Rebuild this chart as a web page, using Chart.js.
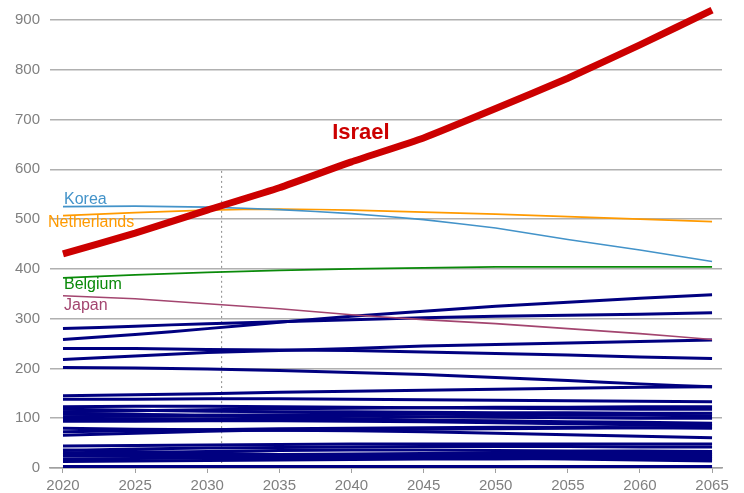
<!DOCTYPE html>
<html>
<head>
<meta charset="utf-8">
<script src="https://cdn.jsdelivr.net/npm/chart.js@4"></script>
<style>
  html, body { margin: 0; padding: 0; background: #fff; }
  #wrap { width: 744px; height: 493px; }
</style>
</head>
<body>
<div id="wrap"><canvas id="chart" width="744" height="493"></canvas></div>
<script>
// years on the x axis
const years = [2020, 2025, 2030, 2035, 2040, 2045, 2050, 2055, 2060, 2065];
const xTicks = [2020, 2025, 2030, 2035, 2040, 2045, 2050, 2055, 2060, 2065];
const yTicks = [0, 100, 200, 300, 400, 500, 600, 700, 800, 900];

// highlighted countries
const israel = [430, 472, 518, 563, 615, 663, 722, 783, 850, 920];
const korea = [525, 526, 524, 519, 511, 499, 482, 459, 438, 415];
const netherlands = [507, 513, 518, 520, 518, 514, 510, 505, 500, 495];
const belgium = [382, 388, 393, 397, 400, 402, 404, 404, 404, 404];
const japan = [346, 340, 330, 320, 308, 298, 290, 280, 270, 258];

// the other countries (navy)
const others = [
  [280, 285, 290, 294, 298, 302, 305, 307, 309, 312],
  [258, 268, 280, 293, 305, 315, 325, 333, 341, 348],
  [240, 240, 238, 237, 236, 233, 230, 227, 223, 220],
  [218, 225, 232, 236, 240, 245, 248, 251, 254, 257],
  [202, 201, 199, 196, 192, 188, 182, 176, 169, 163],
  [145, 147, 149, 152, 154, 156, 158, 160, 162, 163],
  [138, 138, 139, 139, 138, 137, 136, 135, 134, 133],
  [123, 124, 124, 123, 122, 121, 120, 119, 118, 118],
  [118, 116, 114, 113, 113, 112, 111, 111, 110, 110],
  [113, 115, 117, 119, 120, 121, 122, 122, 123, 123],
  [108, 107, 106, 105, 104, 103, 102, 101, 100, 100],
  [103, 104, 106, 107, 108, 108, 107, 106, 106, 105],
  [98, 99, 99, 98, 97, 96, 95, 93, 92, 90],
  [94, 94, 95, 95, 94, 93, 91, 89, 87, 85],
  [110, 108, 105, 102, 99, 96, 93, 90, 88, 86],
  [80, 78, 77, 76, 75, 73, 70, 67, 64, 61],
  [73, 75, 77, 79, 80, 81, 82, 82, 81, 80],
  [66, 70, 74, 76, 77, 78, 79, 80, 81, 82],
  [44, 45, 46, 47, 48, 48, 48, 48, 48, 48],
  [35, 38, 40, 41, 42, 43, 43, 43, 42, 42],
  [30, 28, 27, 27, 28, 29, 30, 30, 30, 30],
  [24, 24, 24, 24, 25, 25, 26, 26, 27, 27],
  [18, 19, 20, 20, 21, 22, 22, 22, 23, 23],
  [13, 14, 15, 16, 17, 18, 18, 19, 19, 19],
  [36, 33, 30, 27, 24, 22, 20, 18, 16, 14],
  [28, 31, 33, 35, 36, 36, 35, 34, 34, 33],
  [3, 3, 3, 3, 3, 3, 3, 3, 3, 3]
];

// dashed marker year
const markerYear = [2031, 2031];
const markerValue = [0, 600];

const FONT = '"Liberation Sans", Arial, sans-serif';

const pts = arr => arr.map((v, i) => ({ x: years[i], y: v }));

const datasets = [];
datasets.push({
  label: 'Israel', data: pts(israel), borderColor: '#cc0000', borderWidth: 7,
  order: 0, clip: false, borderCapStyle: 'butt'
});
[['Korea', korea, '#4393c9'], ['Netherlands', netherlands, '#ff9a00'],
 ['Belgium', belgium, '#0a8a0a'], ['Japan', japan, '#a3456f']].forEach(([n, d, c]) => {
  datasets.push({ label: n, data: pts(d), borderColor: c, borderWidth: 1.6, order: 1 });
});
others.forEach((d, i) => {
  datasets.push({ label: 'c' + i, data: pts(d), borderColor: '#000080', borderWidth: 3, order: 2 });
});
datasets.push({
  label: 'marker',
  data: markerYear.map((x, i) => ({ x: x, y: markerValue[i] })),
  borderColor: '#888', borderWidth: 1, borderDash: [2, 3], order: 3
});

// text labels next to the highlighted lines
const labels = [
  { text: 'Korea', x: 2020.07, y: 540, color: '#4393c9', font: '16px ' + FONT },
  { text: 'Netherlands', x: 2018.96, y: 492, color: '#ff9a00', font: '16px ' + FONT },
  { text: 'Belgium', x: 2020.07, y: 368, color: '#0a8a0a', font: '16px ' + FONT },
  { text: 'Japan', x: 2020.07, y: 327, color: '#a3456f', font: '16px ' + FONT },
  { text: 'Israel', x: 2038.66, y: 673, color: '#cc0000', font: 'bold 22px ' + FONT }
];

const labelPlugin = {
  id: 'lineLabels',
  afterDatasetsDraw(chart) {
    const { ctx, scales } = chart;
    ctx.save();
    ctx.textAlign = 'left';
    ctx.textBaseline = 'middle';
    labels.forEach(l => {
      ctx.font = l.font;
      ctx.fillStyle = l.color;
      ctx.fillText(l.text, scales.x.getPixelForValue(l.x), scales.y.getPixelForValue(l.y));
    });
    ctx.restore();
  }
};

new Chart(document.getElementById('chart'), {
  type: 'line',
  data: { datasets },
  plugins: [labelPlugin],
  options: {
    responsive: false,
    animation: false,
    layout: { padding: { top: 20, right: 22, left: 0, bottom: 0 } },
    elements: { point: { radius: 0 }, line: { tension: 0.15 } },
    plugins: { legend: { display: false }, tooltip: { enabled: false } },
    scales: {
      x: {
        type: 'linear', min: 2019.1, max: 2065.69,
        afterBuildTicks: s => { s.ticks = xTicks.map(v => ({ value: v })); },
        afterFit: s => { s.height = 25; },
        grid: { drawOnChartArea: false, drawTicks: true, tickLength: 5, color: '#a0a0a0' },
        border: { display: true, color: '#a0a0a0', width: 1.5 },
        ticks: { color: '#808080', font: { family: FONT, size: 15 }, padding: 4, maxRotation: 0,
                 callback: v => String(v) }
      },
      y: {
        min: 0, max: 900,
        afterBuildTicks: s => { s.ticks = yTicks.map(v => ({ value: v })); },
        afterFit: s => { s.width = 50; },
        grid: { drawTicks: false, color: '#b0b0b0', lineWidth: 1.5 },
        border: { display: false },
        ticks: { color: '#808080', font: { family: FONT, size: 15 }, padding: 10 }
      }
    }
  }
});
</script>
</body>
</html>
